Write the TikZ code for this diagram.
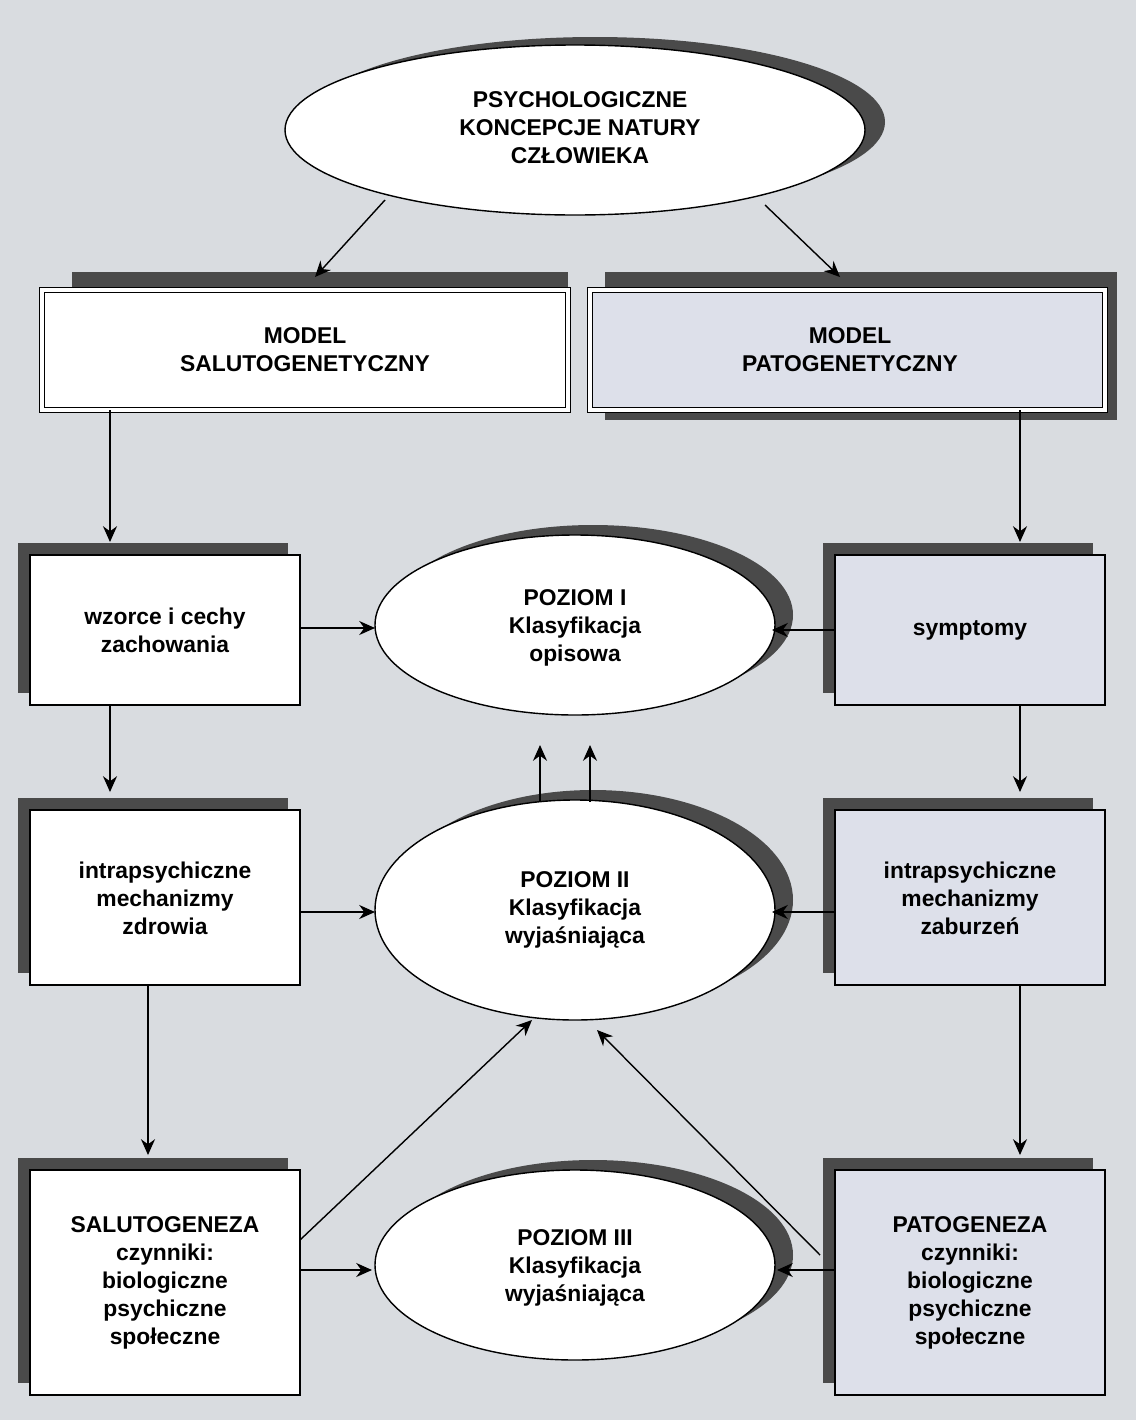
\documentclass[tikz,border=0pt]{standalone}
\usepackage{fontspec}
\setmainfont{Liberation Sans}
\usetikzlibrary{arrows.meta}
\definecolor{bg}{HTML}{D9DCE0}
\definecolor{rbox}{HTML}{DDE0EA}
\definecolor{shad}{HTML}{4A4A4A}
\begin{document}
\begin{tikzpicture}[x=0.02cm,y=-0.02cm,
  txt/.style={font=\bfseries\fontsize{13}{16}\selectfont,align=center},
  box/.style={draw=black,line width=0.8pt},
  arr/.style={-{Stealth[length=9pt,width=8pt]},line width=0.8pt}]
\fill[bg] (0,0) rectangle (1136,1420);
% top ellipse
\fill[shad] (595,122) ellipse (290 and 85);
\draw[fill=white,line width=0.8pt] (575,130) ellipse (290 and 85);
\node[txt] (top) at (580,128) {PSYCHOLOGICZNE\\KONCEPCJE NATURY\\CZŁOWIEKA};
% model boxes
\fill[shad] (72,272) rectangle (568,300);
\draw[fill=white,double,double distance=2pt,line width=0.7pt] (42,290) rectangle (568,410);
\node[txt] (ms) at (305,350) {MODEL\\SALUTOGENETYCZNY};
\fill[shad] (605,272) rectangle (1117,420);
\draw[fill=rbox,double,double distance=2pt,line width=0.7pt] (590,290) rectangle (1105,410);
\node[txt] (mp) at (850,350) {MODEL\\PATOGENETYCZNY};
% small boxes
\foreach \x/\col in {30/white,835/rbox}{
  \foreach \ya/\yb in {555/705,810/985,1170/1395}{
    \fill[shad] (\x-12,\ya-12) rectangle (\x+258,\yb-12);
    \draw[box,fill=\col] (\x,\ya) rectangle (\x+270,\yb);
  }}
\node[txt] (l1) at (165,630) {wzorce i cechy\\zachowania};
\node[txt] (l2) at (165,898) {intrapsychiczne\\mechanizmy\\zdrowia};
\node[txt] (l3) at (165,1283) {SALUTOGENEZA\\czynniki:\\biologiczne\\psychiczne\\społeczne};
\node[txt] (r1) at (970,630) {symptomy};
\node[txt] (r2) at (970,898) {intrapsychiczne\\mechanizmy\\zaburzeń};
\node[txt] (r3) at (970,1283) {PATOGENEZA\\czynniki:\\biologiczne\\psychiczne\\społeczne};
% level ellipses
\foreach \y/\ry in {625/90,910/110,1265/95}{
  \fill[shad] (593,\y-10) ellipse (200 and \ry);
  \draw[fill=white,line width=0.8pt] (575,\y) ellipse (200 and \ry);}
\node[txt] (p1) at (575,628) {POZIOM I\\Klasyfikacja\\opisowa};
\node[txt] (p2) at (575,910) {POZIOM II\\Klasyfikacja\\wyjaśniająca};
\node[txt] (p3) at (575,1268) {POZIOM III\\Klasyfikacja\\wyjaśniająca};
% arrows
\coordinate (a1) at (385,200); \coordinate (b1) at (315,277);
\coordinate (a2) at (765,205); \coordinate (b2) at (840,277);
\draw[arr] (a1) -- (b1); \draw[arr] (a2) -- (b2);
\draw[arr] (110,410) -- (110,542);
\draw[arr] (1020,410) -- (1020,542);
\draw[arr] (300,628) -- (375,628);
\draw[arr] (835,630) -- (772,630);
\draw[arr] (110,705) -- (110,792);
\draw[arr] (1020,705) -- (1020,792);
\draw[arr] (540,802) -- (540,745);
\draw[arr] (590,802) -- (590,745);
\draw[arr] (300,912) -- (375,912);
\draw[arr] (835,912) -- (772,912);
\draw[arr] (148,985) -- (148,1155);
\draw[arr] (1020,985) -- (1020,1155);
\draw[arr] (300,1240) -- (532,1020);
\draw[arr] (300,1270) -- (372,1270);
\draw[arr] (820,1255) -- (597,1030);
\draw[arr] (835,1270) -- (777,1270);
\end{tikzpicture}
\end{document}
